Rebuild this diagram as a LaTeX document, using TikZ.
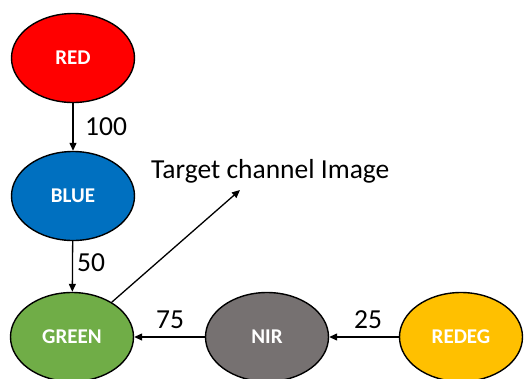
\documentclass[tikz,border=0pt]{standalone}
\usepackage{fontspec}
\setmainfont{Carlito}
\usetikzlibrary{shapes.geometric,arrows.meta}
\definecolor{cred}{HTML}{FF0000}
\definecolor{cblue}{HTML}{0070C0}
\definecolor{cgreen}{HTML}{70AD47}
\definecolor{cnir}{HTML}{767171}
\definecolor{credeg}{HTML}{FFC000}
\tikzset{
  band/.style={ellipse, draw=black, line width=1.4pt, minimum width=123pt,
    minimum height=89pt, inner sep=0pt, text=white,
    font=\fontsize{21}{25}\selectfont\bfseries},
  link/.style={draw=black, line width=1.3pt, -{Triangle[length=8pt,width=7pt]}},
  wlabel/.style={font=\fontsize{27.5}{32}\selectfont, inner sep=0pt}
}
\begin{document}
\begin{tikzpicture}[x=1pt,y=-1pt]
  \useasboundingbox (0,0) rectangle (530,378);
  % spectral band nodes
  \node[band, fill=cred]   (red)   at (73,58)   {RED};
  \node[band, fill=cblue]  (blue)  at (73,196)  {BLUE};
  \node[band, fill=cgreen] (green) at (72,337)  {GREEN};
  \node[band, fill=cnir]   (nir)   at (267,337) {NIR};
  \node[band, fill=credeg] (redeg) at (461,337) {REDEG};
  % target marker
  \coordinate (tgt) at (240,190);
  \node[wlabel, anchor=base west] (tlabel) at (151,178) {Target channel Image};
  % weighted links
  \draw[link] (red) -- (blue);
  \draw[link] (blue) -- (green);
  \draw[link] (nir) -- (green);
  \draw[link] (redeg) -- (nir);
  \draw[link] (green) -- (tgt);
  % weights
  \node[wlabel, anchor=base west] (w100) at (85,135) {100};
  \node[wlabel, anchor=base west] (w50)  at (77,271) {50};
  \node[wlabel, anchor=base west] (w75)  at (156,328) {75};
  \node[wlabel, anchor=base west] (w25)  at (354,328) {25};
\end{tikzpicture}
\end{document}
